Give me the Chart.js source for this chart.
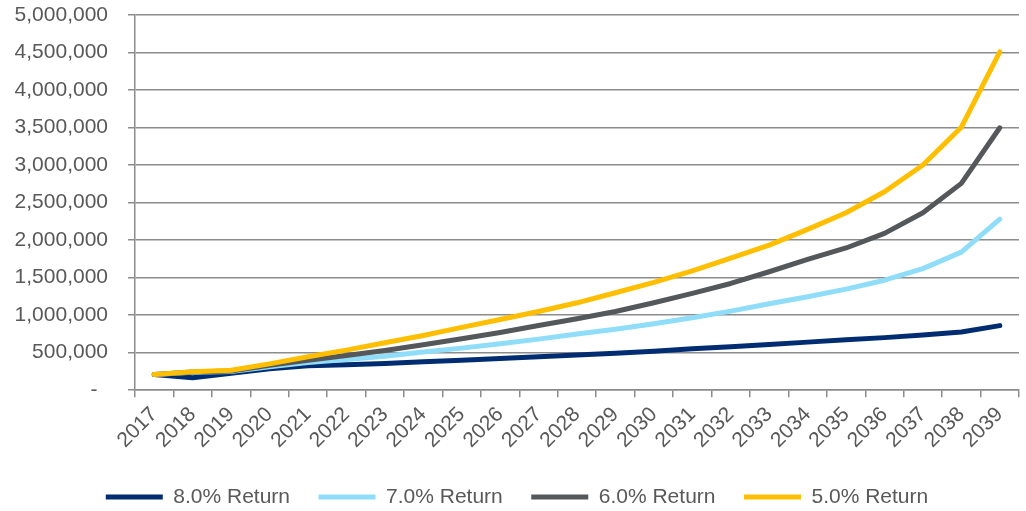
<!DOCTYPE html>
<html>
<head>
<meta charset="utf-8">
<script src="https://cdn.jsdelivr.net/npm/chart.js@4"></script>
<style>
  html, body { margin: 0; padding: 0; background: #fff; }
  #wrap { width: 1026px; height: 511px; }
</style>
</head>
<body>
<div id="wrap"><canvas id="growth-chart"></canvas></div>
<script>
const years = ['2017', '2018', '2019', '2020', '2021', '2022', '2023', '2024', '2025', '2026', '2027', '2028',
  '2029', '2030', '2031', '2032', '2033', '2034', '2035', '2036', '2037', '2038', '2039'];

// portfolio value per year, one array per return assumption
const return8 = [210000, 165000, 225000, 285000, 325000, 340000, 356000, 378000, 400000, 422000, 444000, 467000,
  493000, 520000, 551000, 578000, 609000, 640000, 672000, 700000, 735000, 775000, 860000];
const return7 = [210000, 240000, 248000, 310000, 368000, 409000, 453000, 507000, 560000, 618000, 680000, 747000,
  813000, 884000, 964000, 1053000, 1151000, 1244000, 1347000, 1465000, 1620000, 1840000, 2280000];
const return6 = [210000, 242000, 255000, 330000, 398000, 462000, 529000, 604000, 684000, 769000, 862000, 951000,
  1049000, 1164000, 1289000, 1422000, 1578000, 1742000, 1895000, 2089000, 2364000, 2756000, 3497000];
const return5 = [210000, 244000, 265000, 350000, 445000, 533000, 631000, 729000, 836000, 942000, 1049000, 1164000,
  1298000, 1436000, 1591000, 1760000, 1933000, 2142000, 2364000, 2644000, 3000000, 3505000, 4510000];

const yMax = 5000000;
const yStep = 500000;

const gridColor = '#8c8c8c';
const textColor = '#595959';
const fontFamily = '"Liberation Sans", Arial, sans-serif';

function series(label, data, color, order) {
  return {
    label: label,
    data: data,
    borderColor: color,
    backgroundColor: color,
    borderWidth: 5,
    borderCapStyle: 'round',
    borderJoinStyle: 'round',
    pointRadius: 0,
    pointHoverRadius: 0,
    tension: 0,
    order: order, // lower order is drawn on top, so 5% sits above the rest
  };
}

const ctx = document.getElementById('growth-chart');

new Chart(ctx, {
  type: 'line',
  data: {
    labels: years,
    datasets: [
      series('8.0% Return', return8, '#002d72', 4),
      series('7.0% Return', return7, '#8fddf8', 3),
      series('6.0% Return', return6, '#54585a', 2),
      series('5.0% Return', return5, '#ffbf00', 1),
    ],
  },
  options: {
    responsive: true,
    maintainAspectRatio: false,
    animation: false,
    layout: {
      padding: { left: 15, right: 7, top: 15, bottom: 0 },
    },
    scales: {
      x: {
        offset: true,
        grid: {
          offset: true,
          drawOnChartArea: false,
          drawTicks: true,
          tickLength: 7,
          color: gridColor,
          lineWidth: 1.5,
        },
        border: { color: gridColor, width: 1.5 },
        ticks: {
          autoSkip: false,
          minRotation: 45,
          maxRotation: 45,
          padding: 5,
          color: textColor,
          font: { family: fontFamily, size: 21 },
        },
      },
      y: {
        min: 0,
        max: yMax,
        grid: {
          color: gridColor,
          lineWidth: 1.5,
          tickLength: 7,
        },
        border: { color: gridColor, width: 1.5 },
        ticks: {
          stepSize: yStep,
          padding: 20,
          color: textColor,
          font: { family: fontFamily, size: 21 },
          // accounting style: zero shows as a dash with a trailing gap
          callback: value => (value === 0 ? '-\u2002' : value.toLocaleString('en-US')),
        },
        // fit() counts tick padding twice; keep the axis just wide enough for the labels
        afterFit: scale => {
          scale.width = 120;
          scale.paddingTop = 0;
        },
      },
    },
    plugins: {
      legend: {
        position: 'bottom',
        maxHeight: 53,
        labels: {
          usePointStyle: true,
          pointStyle: 'line',
          pointStyleWidth: 57,
          padding: 28.5,
          color: textColor,
          font: { family: fontFamily, size: 21 },
          sort: (a, b) => a.datasetIndex - b.datasetIndex,
        },
      },
      tooltip: { enabled: false },
    },
  },
});
</script>
</body>
</html>
